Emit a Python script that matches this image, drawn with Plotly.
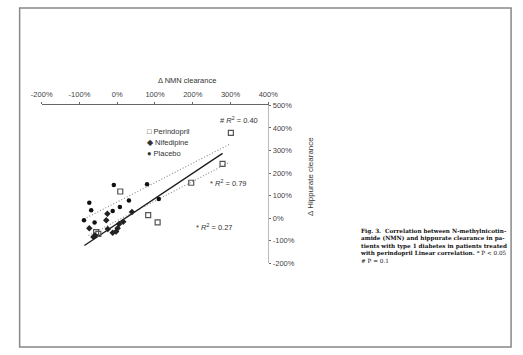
import plotly.graph_objects as go

# ---- data (percent changes) ----
peri_x = [301, 279, 196, 8, 82, 107, -56, -50]
peri_y = [378, 241, 157, 118, 13, -19, -62, -70]

nife_x = [-9, 79, -74, -69, 7, -12, -88, -60, 110, 31]
nife_y = [147, 150, 68, 35, 49, 32, -9, -19, 85, 78]

plac_x = [-26, 39, -29, 16, 5, -74, -25, 1, -3, -12, -59, -63]
plac_y = [20, 27, -9, -16, -26, -45, -48, -45, -59, -65, -77, -84]

# regression line end points
solid_x = [-87, 279]
solid_y = [-121, 287]
dot_up_x = [-88, 298]
dot_up_y = [-4, 328]
dot_lo_x = [-76, 298]
dot_lo_y = [-77, 248]

x_ticks = [-200, -100, 0, 100, 200, 300, 400]
x_labels = ["-200%", "-100%", "0%", "100%", "200%", "300%", "400%"]
y_ticks = [-200, -100, 0, 100, 200, 300, 400, 500]
y_labels = ["-200%", "-100%", "0%", "100%", "200%", "300%", "400%", "500%"]

W, H = 523, 355
fig = go.Figure()

fig.add_trace(go.Scatter(x=dot_up_x, y=dot_up_y, mode="lines",
                         line=dict(color="#8a8a8a", width=1.1, dash="1px,2px"), hoverinfo="skip"))
fig.add_trace(go.Scatter(x=dot_lo_x, y=dot_lo_y, mode="lines",
                         line=dict(color="#8a8a8a", width=1.1, dash="1px,2px"), hoverinfo="skip"))
fig.add_trace(go.Scatter(x=solid_x, y=solid_y, mode="lines",
                         line=dict(color="#1a1a1a", width=1.3), hoverinfo="skip"))

fig.add_trace(go.Scatter(x=peri_x, y=peri_y, mode="markers", name="Perindopril",
                         marker=dict(symbol="square-open", size=5, color="#555",
                                     line=dict(width=1.2, color="#555"))))
fig.add_trace(go.Scatter(x=nife_x, y=nife_y, mode="markers", name="Nifedipine",
                         marker=dict(symbol="circle", size=4.5, color="#111")))
fig.add_trace(go.Scatter(x=plac_x, y=plac_y, mode="markers", name="Placebo",
                         marker=dict(symbol="diamond", size=5, color="#222")))

tickfont = dict(family="Liberation Sans, Arial", size=7.5, color="#444")

fig.update_layout(
    width=W, height=H,
    margin=dict(l=0, r=0, t=0, b=0),
    paper_bgcolor="white", plot_bgcolor="white",
    showlegend=False,
    xaxis=dict(domain=[32 / W, 268 / W], range=[-200, 400], side="top",
               tickvals=x_ticks, ticktext=x_labels, tickfont=tickfont,
               showgrid=False, zeroline=False, showline=True, linecolor="#666",
               linewidth=1, ticks="outside", ticklen=2, tickcolor="#666",
               ticklabelstandoff=2, anchor="y", fixedrange=True),
    yaxis=dict(domain=[1 - 266 / H, 1 - 104 / H], range=[-200, 500], side="right",
               tickvals=y_ticks, ticktext=y_labels, tickfont=tickfont,
               showgrid=False, zeroline=False, showline=True, linecolor="#bbb",
               linewidth=1, ticks="outside", ticklen=2, tickcolor="#666",
               anchor="x", fixedrange=True),
)

# axis titles
fig.add_annotation(text="Δ NMN clearance", xref="paper", yref="paper",
                   x=151 / W, y=1 - 79 / H, showarrow=False, yanchor="middle",
                   font=dict(family="Liberation Sans, Arial", size=7.5, color="#333"))
fig.add_annotation(text="Δ Hippurate clearance", xref="paper", yref="paper",
                   x=312 / W, y=1 - 177 / H, showarrow=False, textangle=-90,
                   font=dict(family="Liberation Sans, Arial", size=8, color="#333"))

# R² labels
rfont = dict(family="Liberation Sans, Arial", size=7.5, color="#333")
for txt, x, y in [("# <i>R</i><sup>2</sup> = 0.40", 268, 437),
                  ("* <i>R</i><sup>2</sup> = 0.79", 240, 156),
                  ("* <i>R</i><sup>2</sup> = 0.27", 204, -39)]:
    fig.add_annotation(text=txt, x=x, y=y, xref="x", yref="y", showarrow=False,
                       xanchor="left", font=rfont)

# legend drawn as text
lfont = dict(family="Liberation Sans, Arial", size=7.5, color="#333")
for i, (sym, name) in enumerate([("□", "Perindopril"), ("◆", "Nifedipine"), ("●", "Placebo")]):
    fig.add_annotation(text=sym + " " + name, xref="paper", yref="paper",
                       x=140 / W, y=1 - (131 + 11 * i) / H, showarrow=False,
                       xanchor="left", font=lfont)

# caption
caption = ("Fig. 3.  Correlation between N-methylnicotin-<br>"
           "amide (NMN) and hippurate clearance in pa-<br>"
           "tients with type 1 diabetes in patients treated<br>"
           "with perindopril Linear correlation. <span style='font-weight:normal'>* P < 0.05</span><br>"
           "<span style='font-weight:normal'># P = 0.1</span>")
fig.add_annotation(text="<b>" + caption + "</b>", xref="paper", yref="paper",
                   x=361 / W, y=1 - 228 / H, showarrow=False, xanchor="left",
                   yanchor="top", align="left",
                   font=dict(family="DejaVu Serif, Liberation Serif", size=5.7, color="#111"))

# frame
fig.add_shape(type="rect", xref="paper", yref="paper",
              x0=9 / W, x1=521 / W, y0=1 - 352 / H, y1=1 - 4 / H,
              line=dict(color="#888", width=1.5))

fig.write_html("out.html")
